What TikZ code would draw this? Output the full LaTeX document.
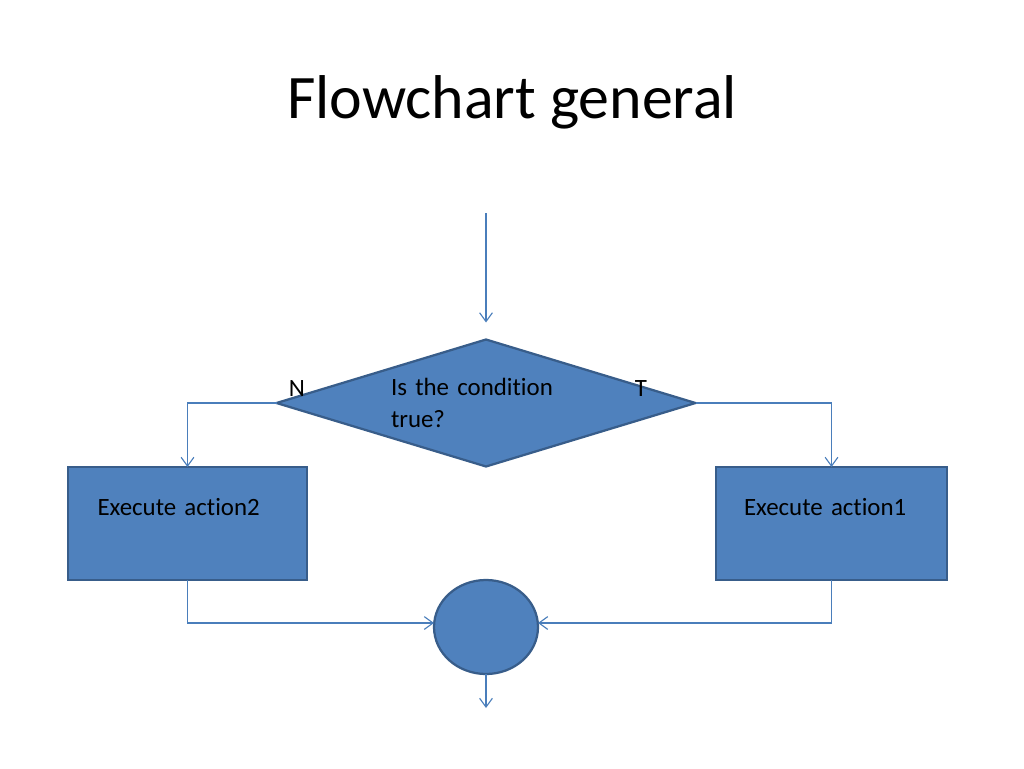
\documentclass[tikz,border=0pt]{standalone}
\usepackage{fontspec}
\setmainfont{Carlito}[Ligatures=NoCommon]
\usepackage{tikz}
\usetikzlibrary{shapes.geometric,arrows.meta}

\definecolor{boxfill}{HTML}{4F81BD}
\definecolor{boxline}{HTML}{385D8A}
\definecolor{flowline}{HTML}{4A7EBB}

\begin{document}
\begin{tikzpicture}[x=0.25mm, y=-0.25mm,
  every node/.style={font=\fontsize{17.7}{23}\selectfont},
  blockshape/.style={fill=boxfill, draw=boxline, line width=1.6pt, inner sep=0pt, outer sep=0pt},
  actbox/.style={blockshape, rectangle, align=left, inner xsep=7mm, text width=45mm, text height=12mm, text depth=16.25mm},
  flow/.style={draw=flowline, line width=0.8pt, -{Straight Barb[length=2.2mm, width=3.2mm]}}]
  \useasboundingbox (0,0) rectangle (1024,768);
  \node[font=\fontsize{44}{53}\selectfont, anchor=base] (title) at (512,118) {Flowchart general};
  % condition
  \node[blockshape, diamond, minimum width=104.75mm, minimum height=31.75mm, aspect=3.3, align=left, text width=47.5mm] (cond) at (486,403) {Is the condition\\true?};
  \node[anchor=base] (n) at (297,396) {N};
  \node[anchor=base] (t) at (641,396) {T};
  % actions
  \node[actbox, minimum width=59.75mm, minimum height=28.25mm] (act2) at (187.5,523.5) {Execute action2};
  \node[actbox, minimum width=57.75mm, minimum height=28.25mm, text width=43.75mm] (act1) at (831.5,523.5) {Execute action1};
  % join
  \node[blockshape, ellipse, minimum width=26mm, minimum height=23.5mm] (join) at (486,627) {};
  \coordinate (in) at (486,213);
  \coordinate (out) at (486,708);
  \draw[flow] (in) -- ([yshift=4.25mm]cond.north);
  \draw[flow] (cond.west) -| (act2.north);
  \draw[flow] (cond.east) -| (act1.north);
  \draw[flow] (act2.south) |- ([yshift=1mm]join.west);
  \draw[flow] (act1.south) |- ([yshift=1mm]join.east);
  \draw[flow] (join.south) -- (out);
\end{tikzpicture}
\end{document}
